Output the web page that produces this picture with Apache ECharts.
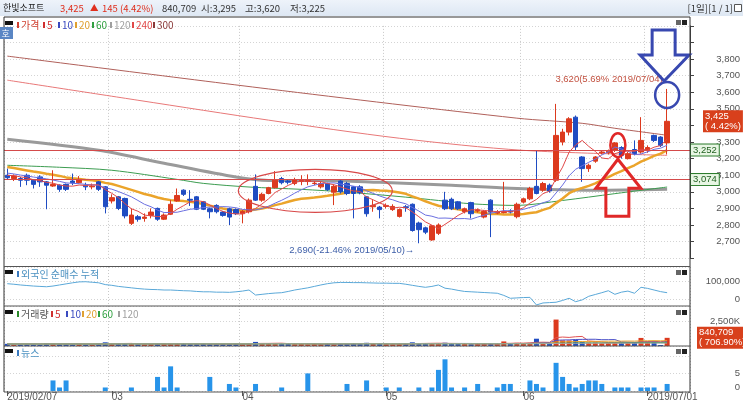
<!DOCTYPE html>
<html><head><meta charset="utf-8">
<script src="https://cdn.jsdelivr.net/npm/echarts/dist/echarts.min.js"></script>
<style>html,body{margin:0;padding:0;background:#fff;}#c{width:743px;height:402px;}</style>
</head><body><div id="c"></div>
<script>
// ---------- DATA ----------
const febDays=[7,8,11,12,13,14,15,18,19,20,21,22,25,26,27,28];
const marDays=[4,5,6,7,8,11,12,13,14,15,18,19,20,21,22,25,26,27,28,29];
const aprDays=[1,2,3,4,5,8,9,10,11,12,15,16,17,18,19,22,23,24,25,26,29,30];
const mayDays=[2,3,7,8,9,10,13,14,15,16,17,20,21,22,23,24,27,28,29,30,31];
const junDays=[3,4,5,7,10,11,12,13,14,17,18,19,20,21,24,25,26,27,28];
const julDays=[1,2,3,4];

const opens=[3100,3080,3080,3100,3070,3090,3060,3035,3040,3045,3065,3055,3040,3030,3060,3030,2945,2970,2960,2810,2850,2840,2858,2900,2835,2865,2945,3010,2955,2970,2940,2898,2918,2878,2898,2893,2868,2880,3033,2950,2990,3025,3080,3065,3050,3062,3062,3050,3030,3050,2998,3065,3050,3030,3030,2970,2910,2908,2912,2893,2852,2910,2925,2812,2783,2710,2750,2950,2955,2940,2880,2935,2885,2848,2950,2872,2875,2885,2850,2938,2958,3033,3010,3040,3070,3300,3360,3450,3210,3140,3185,3235,3235,3250,3267,3200,3255,3240,3250,3340,3330,3295];
const closes=[3085,3095,3070,3070,3045,3060,3040,3045,3015,3015,3055,3075,3030,3035,3015,2910,2965,2900,2855,2860,2835,2848,2878,2835,2860,2925,2978,2985,2950,2895,2895,2880,2880,2858,2848,2868,2882,2950,2950,2985,3025,3070,3055,3058,3073,3068,3068,3052,3050,3013,3033,3000,2990,2990,2995,2868,2918,2893,2918,2912,2893,2905,2767,2772,2757,2795,2800,2898,2898,2898,2898,2868,2892,2882,2878,2880,2880,2878,2925,2958,3020,2990,3050,3005,3340,3360,3440,3270,3140,3160,3210,3240,3245,3295,3220,3230,3230,3310,3267,3310,3280,3425];
const highs=[3140,3105,3090,3110,3075,3100,3065,3130,3045,3050,3110,3095,3055,3050,3065,3035,2985,2975,2965,2900,2860,2870,2900,2905,2870,2950,3020,3015,3010,2975,2945,2905,2925,2885,2905,2900,2890,2960,3105,2995,3030,3125,3090,3075,3085,3100,3105,3065,3060,3055,3045,3070,3060,3035,3040,2975,2950,2915,2930,2925,2900,2920,2930,2820,2790,2800,2810,3000,2965,2945,2905,2940,2900,2890,2955,2890,3060,2895,2935,2965,3030,3250,3060,3050,3530,3380,3450,3460,3215,3170,3215,3250,3255,3300,3275,3240,3310,3450,3280,3345,3335,3620];
const lows=[3075,3065,3030,3040,3020,3030,2895,3030,3000,3005,3040,3050,3010,3015,3005,2870,2930,2890,2840,2800,2820,2820,2840,2825,2830,2860,2940,2975,2915,2890,2890,2840,2870,2850,2800,2860,2810,2870,2945,2940,2985,3020,3045,3045,3040,3040,3040,3040,3020,3005,2920,2990,2980,2840,2985,2850,2880,2840,2900,2885,2845,2880,2760,2690,2745,2705,2740,2890,2890,2890,2870,2840,2875,2840,2727,2865,2870,2870,2840,2930,2950,2985,3000,2995,3060,3280,3340,3250,3060,3120,3175,3225,3225,3240,3200,3195,3220,3230,3235,3300,3270,3225];
// closes of the 19 sessions before the first visible one (for the 5/10/20-day averages)
const priorCloses=[3230,3210,3220,3190,3170,3180,3160,3170,3180,3160,3150,3140,3120,3115,3110,3100,3110,3095,3105];
// long moving averages (session index -> price)
const ma60Idx=[0,8,16,26,30,37,45,52,61,66,71,78,85,93,101];
const ma60Val=[3160,3148,3130,3075,3051,3029,3015,2998,2968,2948,2928,2918,2948,2989,3029];
const ma120Idx=[0,14,24,35,40,48,57,68,77,90,101];
const ma120Val=[3317,3250,3172,3089,3069,3069,3057,3039,3021,3009,3015];
const ma240Idx=[0,20,40,60,79,101];
const ma240Val=[3673,3552,3432,3323,3250,3220];
const ma300Idx=[0,40,78,88,93,101];
const ma300Val=[3818,3620,3444,3413,3383,3341];

const volumes=[220000,180000,200000,210000,190000,180000,260000,240000,200000,190000,180000,220000,170000,160000,230000,380000,210000,230000,250000,260000,190000,170000,200000,220000,240000,230000,260000,250000,200000,190000,210000,200000,180000,220000,200000,230000,190000,240000,420000,260000,230000,250000,280000,220000,190000,200000,180000,210000,200000,220000,190000,240000,230000,260000,250000,330000,220000,200000,190000,180000,200000,210000,380000,300000,240000,260000,250000,340000,230000,210000,200000,190000,210000,220000,260000,200000,470000,230000,320000,260000,320000,750000,300000,250000,2720000,580000,570000,640000,420000,350000,360000,300000,310000,360000,340000,330000,350000,830000,450000,440000,104190,840709];
const foreignNet=[85000,82000,78000,75000,72000,70000,68000,72000,78000,84000,90000,95000,96000,93000,90000,80000,76000,70000,66000,62000,58000,55000,53000,52000,50000,50000,48000,46000,45000,42000,40000,40000,38000,38000,37000,40000,44000,50000,22000,26000,30000,33000,35000,42000,50000,56000,62000,70000,78000,85000,90000,92000,92000,91000,91000,90000,89000,88000,88000,87000,87000,82000,76000,70000,65000,70000,78000,60000,55000,48000,42000,40000,38000,36000,34000,32000,20000,4000,6000,8000,9000,-33000,-22000,-20000,-18000,-8000,4000,-15000,-5000,15000,25000,35000,46000,26000,38000,44000,32000,65000,59000,50000,41000,35000];
const newsIdx=[7,8,9,15,19,23,24,25,26,31,34,35,38,42,46,52,55,58,60,63,65,66,67,68,70,72,75,76,77,80,81,82,84,85,86,87,88,89,90,91,93,94,95,97,98,99,101];
const newsCnt=[3,1,3,1,1,4,1,7,1,4,2,1,2,1,5,2,3,1,1,1,1,6,9,1,1,2,1,2,2,3,2,1,8,4,2,1,2,3,3,2,1,1,1,1,1,1,2];

const levelLines=[3252,3074];
const lastPrice=3425, lastVolume=840709;
const monthStarts=[0,16,36,58,79,98];
const monthLabels=['2019/02/07','03','04','05','06','2019/07/01'];

// ---------- BUILD ----------
const pad2=n=>String(n).padStart(2,'0');
const dates=[].concat(
  febDays.map(d=>'2019/02/'+pad2(d)),marDays.map(d=>'2019/03/'+pad2(d)),
  aprDays.map(d=>'2019/04/'+pad2(d)),mayDays.map(d=>'2019/05/'+pad2(d)),
  junDays.map(d=>'2019/06/'+pad2(d)),julDays.map(d=>'2019/07/'+pad2(d)));
const N=dates.length, PAD=3, NT=N+PAD;
const cats=dates.concat(Array(PAD).fill(''));
const padArr=a=>a.concat(Array(PAD).fill(null));
const UP='#dc3a1e', DOWN='#1f4cc2';
const CLEAR='rgba(0,0,0,0)';
const ohlc=opens.map((o,i)=>[o,closes[i],lows[i],highs[i]]);
const allC=priorCloses.concat(closes), off=priorCloses.length;
function sma(n){return closes.map((_,i)=>{let s=0;for(let k=i+off-n+1;k<=i+off;k++)s+=allC[k];return Math.round(s/n);});}
function sparse(idx,val){const a=Array(NT).fill(null);idx.forEach((k,j)=>a[k]=val[j]);return a;}
function volMA(n){return volumes.map((_,i)=>{const s=Math.max(0,i-n+1);let t=0;for(let k=s;k<=i;k++)t+=volumes[k];return t/(i-s+1);});}
const newsArr=Array(N).fill(0);newsIdx.forEach((k,j)=>newsArr[k]=newsCnt[j]);

const KR='"Noto Sans CJK KR","Noto Sans",sans-serif';
const NUM='"Liberation Sans",Arial,sans-serif';
const isMonth=i=>monthStarts.indexOf(i)>=0;

function xAx(g,show){return{type:'category',gridIndex:g,data:cats,boundaryGap:true,
  axisLine:{show:false},
  axisTick:{show:show,alignWithLabel:true,interval:(i)=>isMonth(i),length:5,lineStyle:{color:'#555'}},
  axisLabel:{show:show,interval:(i)=>isMonth(i),formatter:(v,i)=>{const k=monthStarts.indexOf(i);return k>=0?monthLabels[k]:'';},align:'left',margin:1,fontSize:10,color:'#555',fontFamily:NUM},
  splitLine:{show:true,interval:(i)=>isMonth(i),lineStyle:{color:'#c8c8c8',type:[1,2],width:1}}};}

const grids=[
  {left:4,right:53,top:25.9,height:232.3},
  {left:4,right:53,top:267,height:39},
  {left:4,right:53,top:306,height:40},
  {left:4,right:53,top:346,height:46}];

const yLbl={align:'right',margin:50,fontSize:9.5,color:'#555',fontFamily:NUM};
const boxLbl=(txt,dist)=>({show:true,position:'end',distance:dist,formatter:txt,backgroundColor:'#d8401c',color:'#fff',padding:[1,2,1,2],lineHeight:10,fontSize:9.5,fontFamily:NUM});
const greenLbl=txt=>({show:true,position:'end',distance:1,formatter:txt,backgroundColor:'#e8f6e4',borderColor:'#2d7d2d',borderWidth:1,color:'#1f5f1f',padding:[1,2,0,2],fontSize:9.5,fontFamily:NUM});
const option={
  animation:false,
  grid:grids,
  xAxis:[xAx(0,false),xAx(1,false),xAx(2,false),xAx(3,true)],
  yAxis:[
    {type:'value',gridIndex:0,position:'right',min:2600,max:4000,interval:100,
     axisLine:{show:true,lineStyle:{color:'#444'}},axisTick:{show:true,length:4,lineStyle:{color:'#444'}},
     axisLabel:Object.assign({},yLbl,{formatter:v=>(v<2700||v>3800||v===3400)?'':v.toLocaleString('en-US')}),
     splitLine:{show:true,lineStyle:{color:'#d4d4d4',type:[1,2]}}},
    {type:'value',gridIndex:1,position:'right',min:-38900,max:177800,splitNumber:2,
     axisLine:{show:false},axisTick:{show:false},
     axisLabel:Object.assign({},yLbl,{formatter:v=>v===0?'0':(v===100000?'100,000':'')}),
     splitLine:{show:true,lineStyle:{color:'#d4d4d4',type:[1,2]}}},
    {type:'value',gridIndex:2,position:'right',min:0,max:4115000,interval:2500000,
     axisLine:{show:false},axisTick:{show:false},
     axisLabel:Object.assign({},yLbl,{formatter:v=>v===2500000?'2,500K':''}),
     splitLine:{show:true,lineStyle:{color:'#d4d4d4',type:[1,2]}}},
    {type:'value',gridIndex:3,position:'right',min:0,max:12.78,interval:5,
     axisLine:{show:false},axisTick:{show:false},
     axisLabel:Object.assign({},yLbl,{formatter:v=>v===5?'5':(v===0?'{z|0}':''),rich:{z:{padding:[0,0,8,0],fontSize:9.5,color:'#555',fontFamily:NUM}}}),
     splitLine:{show:true,lineStyle:{color:'#d4d4d4',type:[1,2]}}}
  ],
  series:[
    {name:'300',type:'line',data:sparse(ma300Idx,ma300Val),connectNulls:true,smooth:0.3,symbol:'none',lineStyle:{color:'#b0605a',width:1},z:2},
    {name:'240',type:'line',data:sparse(ma240Idx,ma240Val),connectNulls:true,smooth:0.3,symbol:'none',lineStyle:{color:'#e87878',width:1},z:2},
    {name:'120',type:'line',data:sparse(ma120Idx,ma120Val),connectNulls:true,smooth:0.3,symbol:'none',lineStyle:{color:'#9a9a9a',width:3},z:2},
    {name:'60',type:'line',data:sparse(ma60Idx,ma60Val),connectNulls:true,smooth:0.3,symbol:'none',lineStyle:{color:'#3c9c50',width:1},z:2},
    {name:'20',type:'line',data:padArr(sma(20)),symbol:'none',lineStyle:{color:'#eba42a',width:2.5},z:2},
    {name:'price',type:'candlestick',data:ohlc,barWidth:5,z:3,
     itemStyle:{color:UP,color0:DOWN,borderColor:UP,borderColor0:DOWN,borderWidth:1},
     markLine:{silent:true,symbol:'none',animation:false,data:[
       {yAxis:levelLines[0],lineStyle:{color:'#d44a4a',width:1,type:'solid'},label:greenLbl('3,252')},
       {yAxis:levelLines[1],lineStyle:{color:'#d44a4a',width:1,type:'solid'},label:greenLbl('3,074')},
       {yAxis:lastPrice,lineStyle:{color:CLEAR,width:0},label:boxLbl('3,425\n( 4.42%)',13)}
     ]},
     markPoint:{silent:true,symbol:'circle',symbolSize:1,itemStyle:{color:CLEAR},data:[
       {coord:[101,3620],label:{show:true,position:[-4,-9],align:'right',verticalAlign:'middle',formatter:'3,620(5.69% 2019/07/04)',color:'#c2503f',fontSize:9.5,fontFamily:NUM}},
       {coord:[63,2690],label:{show:true,position:[-4,8],align:'right',verticalAlign:'middle',formatter:'2,690(-21.46% 2019/05/10)→',color:'#3d5ea8',fontSize:9.5,fontFamily:NUM}}
     ]}},
    {name:'10',type:'line',data:padArr(sma(10)),symbol:'none',lineStyle:{color:'#6b6fe0',width:1},z:4},
    {name:'5',type:'line',data:padArr(sma(5)),symbol:'none',lineStyle:{color:'#e04848',width:1},z:4},
    {name:'foreign',type:'line',xAxisIndex:1,yAxisIndex:1,data:padArr(foreignNet),symbol:'none',lineStyle:{color:'#5aa8d8',width:1}},
    {name:'volume',type:'bar',xAxisIndex:2,yAxisIndex:2,barWidth:5,
     data:volumes.map((v,i)=>({value:v,itemStyle:{color:closes[i]>=opens[i]?UP:DOWN}})),
     markLine:{silent:true,symbol:'none',data:[{yAxis:lastVolume,lineStyle:{color:CLEAR,width:0},label:boxLbl('840,709\n( 706.90%)',7)}]}},
    {name:'v5',type:'line',xAxisIndex:2,yAxisIndex:2,data:padArr(volMA(5)),symbol:'none',lineStyle:{color:'#e05050',width:1}},
    {name:'v10',type:'line',xAxisIndex:2,yAxisIndex:2,data:padArr(volMA(10)),symbol:'none',lineStyle:{color:'#4a50c8',width:1}},
    {name:'v20',type:'line',xAxisIndex:2,yAxisIndex:2,data:padArr(volMA(20)),symbol:'none',lineStyle:{color:'#eba42a',width:1}},
    {name:'v60',type:'line',xAxisIndex:2,yAxisIndex:2,data:padArr(volMA(60)),symbol:'none',lineStyle:{color:'#3c9c50',width:1}},
    {name:'v120',type:'line',xAxisIndex:2,yAxisIndex:2,data:padArr(volMA(120)),symbol:'none',lineStyle:{color:'#aaaaaa',width:1}},
    {name:'news',type:'bar',xAxisIndex:3,yAxisIndex:3,barWidth:5,data:newsArr,itemStyle:{color:'#2794ea'}}
  ]
};
const chart=echarts.init(document.getElementById('c'),null,{renderer:'canvas'});
chart.setOption(option);

// ---------- DECORATION (frame, header, legends, hand-drawn marks) ----------
const g=[];
const T=(x,y,text,color,size,extra)=>g.push(Object.assign({type:'text',x:x,y:y,silent:true,z:100,style:Object.assign({text:text,fill:color,font:(size||10)+'px '+KR,textVerticalAlign:'middle'},extra||{})}));
const L=(x1,y1,x2,y2,c,w)=>g.push({type:'line',silent:true,z:90,shape:{x1:x1,y1:y1,x2:x2,y2:y2},style:{stroke:c,lineWidth:w||1}});
const R=(x,y,w,h,fill,z)=>g.push({type:'rect',silent:true,z:z||95,shape:{x:x,y:y,width:w,height:h},style:{fill:fill}});
// header band
g.push({type:'rect',silent:true,z:80,shape:{x:0,y:0,width:743,height:16},style:{fill:new echarts.graphic.LinearGradient(0,0,0,1,[{offset:0,color:'#eef3fa'},{offset:1,color:'#dde7f3'}])}});
T(3,8,'한빛소프트','#222',9);
T(60,8,'3,425','#e0301e',9.5);
T(90,8,'▲','#e0301e',8.5);
T(102,8,'145 (4.42%)','#e0301e',9.5);
T(162,8,'840,709','#333',9.5);
T(201,8,'시:3,295','#333',9.5);
T(245,8,'고:3,620','#333',9.5);
T(290,8,'저:3,225','#333',9.5);
T(733,8,'[1일][1 / 1]','#333',9.5,{textAlign:'right'});
g.push({type:'rect',silent:true,z:95,shape:{x:734.5,y:4.5,width:7,height:7},style:{fill:'#fff',stroke:'#555',lineWidth:1}});
// frame
L(4,17,690,17,'#333',1.2);L(4,17,4,392,'#333',1);L(690,17,690,392,'#333',1);
L(4,266.5,690,266.5,'#555',1);L(4,306,690,306,'#555',1);L(4,346,690,346,'#555',1);L(4,392,690,392,'#555',1);
// panel icons
[20,270,310,349].forEach(y=>{R(676,y,5,5,'#666');R(682,y,5,5,'#222');});
// legends
function legendRow(y,items){R(5,y-4,8,4,'#111');items.forEach(it=>{R(it.x-4,y-3,2,6,it.m);T(it.x,y,it.t,it.c,10);});}
legendRow(25,[{t:'가격',x:21,m:'#d04030',c:'#d04030'},{t:'5',x:47,m:'#d03030',c:'#d03030'},{t:'10',x:62,m:'#3a4ac0',c:'#3a4ac0'},{t:'20',x:79,m:'#e0a030',c:'#e0a030'},{t:'60',x:96,m:'#30a040',c:'#30a040'},{t:'120',x:114,m:'#a0a0a0',c:'#a0a0a0'},{t:'240',x:136,m:'#e04848',c:'#e04848'},{t:'300',x:157,m:'#8b3a3a',c:'#8b3a3a'}]);
R(0,27,13,12,'#5a86c4');T(1.5,33.5,'호','#fff',9);
legendRow(274,[{t:'외국인 순매수 누적',x:21,m:'#3a7abf',c:'#4a90c0'}]);
legendRow(314,[{t:'거래량',x:21,m:'#2a8a2a',c:'#555'},{t:'5',x:55,m:'#d03030',c:'#d03030'},{t:'10',x:70,m:'#3a4ac0',c:'#3a4ac0'},{t:'20',x:86,m:'#e0a030',c:'#e0a030'},{t:'60',x:102,m:'#30a040',c:'#30a040'},{t:'120',x:122,m:'#a0a0a0',c:'#a0a0a0'}]);
legendRow(353,[{t:'뉴스',x:21,m:'#3a7abf',c:'#4a90c0'}]);

// hand-drawn marks anchored to data positions
const px=(i,p)=>chart.convertToPixel({gridIndex:0},[i,p]);
const c1=px(47,3006);
g.push({type:'ellipse',silent:true,z:60,shape:{cx:c1[0]+1,cy:c1[1],rx:77,ry:21.5},style:{fill:'none',stroke:'#d84848',lineWidth:1.2}});
const c2=px(93,3281);
g.push({type:'ellipse',silent:true,z:60,shape:{cx:c2[0]+3,cy:c2[1],rx:7.5,ry:12},style:{fill:'none',stroke:'#e02828',lineWidth:2.5}});
const t=px(93,3196);const tx=t[0]+3,ty=t[1];
g.push({type:'polygon',silent:true,z:60,shape:{points:[[tx,ty],[tx+23,ty+29],[tx+11,ty+29],[tx+11,ty+57],[tx-12,ty+57],[tx-12,ty+29],[tx-22,ty+29]]},style:{fill:'none',stroke:'#e02828',lineWidth:3}});
const h=px(101,3620);
g.push({type:'ellipse',silent:true,z:60,shape:{cx:h[0],cy:h[1]+6,rx:12,ry:13},style:{fill:'none',stroke:'#3848b0',lineWidth:2.5}});
const bx=h[0]-3,by=h[1]-8;
g.push({type:'polygon',silent:true,z:60,shape:{points:[[bx,by],[bx+25,by-26],[bx+11,by-26],[bx+11,by-51],[bx-12,by-51],[bx-12,by-26],[bx-24,by-26]]},style:{fill:'none',stroke:'#3848b0',lineWidth:3}});
chart.setOption({graphic:{elements:g}});
</script></body></html>
